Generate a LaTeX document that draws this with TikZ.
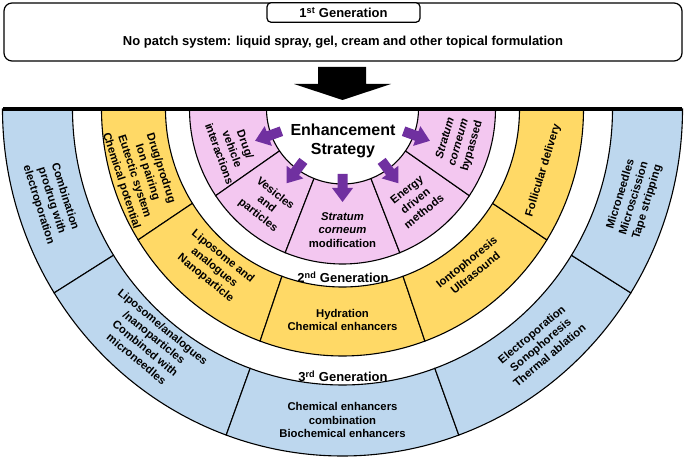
\documentclass[tikz,border=0pt]{standalone}
\usepackage{fontspec}
\setmainfont{Liberation Sans}
\usetikzlibrary{calc}
\definecolor{ringblue}{RGB}{189,215,238}
\definecolor{ringyellow}{RGB}{255,217,102}
\definecolor{ringpink}{RGB}{243,199,240}
\definecolor{arrowpurple}{RGB}{112,48,160}
\begin{document}
\begin{tikzpicture}[x=1pt,y=1pt,
  sector/.style={draw=black,line width=1.1pt},
  ringlabel/.style={font=\bfseries\fontsize{11.3}{13.8}\selectfont,align=center,inner sep=0pt},
  genlabel/.style={font=\bfseries\fontsize{13}{15}\selectfont,inner sep=0pt}]
\useasboundingbox (0,0) rectangle (685,460);
\coordinate (c) at (342.5,351);

% 1st generation box
\node[draw,line width=1.2pt,rounded corners=8pt,minimum width=678pt,minimum height=58pt] (gen1box) at (343,428) {};
\node[draw,line width=1.2pt,rounded corners=4pt,fill=white,minimum width=153pt,minimum height=19.5pt] (gen1tab) at (343.5,447.5) {};
\node[genlabel] (gen1) at (gen1tab) {1\textsuperscript{st} Generation};
\node[genlabel] (nopatch) at (343,418) {No patch system: liquid spray, gel, cream and other topical formulation};
\fill (318,393) -- (366,393) -- (366,376) -- (391,376) -- (342.5,360) -- (294,376) -- (318,376) -- cycle;

% rings
\foreach \a/\b in {180/212,212/250,250/290,290/328,328/360}
  \draw[sector,fill=ringblue,shift={(c)}] (\a:340 and 347) arc[start angle=\a,end angle=\b,x radius=340,y radius=347]
    -- (\b:270 and 276) arc[start angle=\b,end angle=\a,x radius=270,y radius=276] -- cycle;
\foreach \a/\b in {180/212,212/250,250/290,290/328,328/360}
  \draw[sector,fill=ringyellow,shift={(c)}] (\a:241 and 247) arc[start angle=\a,end angle=\b,x radius=241,y radius=247]
    -- (\b:177 and 178) arc[start angle=\b,end angle=\a,x radius=177,y radius=178] -- cycle;
\foreach \a/\b in {180/214,214/248,248/292,292/326,326/360}
  \draw[sector,fill=ringpink,shift={(c)}] (\a:153 and 155) arc[start angle=\a,end angle=\b,x radius=153,y radius=155]
    -- (\b:76 and 75) arc[start angle=\b,end angle=\a,x radius=76,y radius=75] -- cycle;
\draw[line width=4pt] (3,351) -- (682,351);

% arrows out of the centre
\foreach \t in {200,233,270,307,340}
  \fill[arrowpurple,shift={(c)},rotate=\t] (65,-5) -- (79,-5) -- (79,-10.5) -- (93,0) -- (79,10.5) -- (79,5) -- (65,5) -- cycle;

\node[font=\bfseries\fontsize{16}{19.3}\selectfont,align=center] (strategy) at (343,319) {Enhancement\\Strategy};

% pink sectors
\node[ringlabel,rotate=-70] (drugveh) at ($(c)+(200:117)$) {Drug/\\vehicle\\interactions};
\node[ringlabel,rotate=-38.5] (vesicles) at ($(c)+(231.5:122)$) {Vesicles\\and\\particles};
\node[ringlabel] (scmod) at ($(c)+(270:121)$) {\textit{Stratum}\\\textit{corneum}\\modification};
\node[ringlabel,rotate=38.5] (energy) at ($(c)+(308.5:117)$) {Energy\\driven\\methods};
\node[ringlabel,rotate=74] (scbypass) at ($(c)+(344:121)$) {\textit{Stratum}\\\textit{corneum}\\bypassed};

% 2nd generation
\node[genlabel] (gen2) at (343,183) {2\textsuperscript{nd} Generation};
\node[ringlabel,rotate=-72] (prodrug) at ($(c)+(198:212)$) {Drug/prodrug\\Ion pairing\\Eutectic system\\Chemical potential};
\node[ringlabel,rotate=-39] (liposome) at ($(c)+(231:204)$) {Liposome and\\analogues\\Nanoparticle};
\node[ringlabel] (hydration) at ($(c)+(270:211)$) {Hydration\\Chemical enhancers};
\node[ringlabel,rotate=39] (ionto) at ($(c)+(309:204)$) {Iontophoresis\\Ultrasound};
\node[ringlabel,rotate=73] (follicular) at ($(c)+(343:210)$) {Follicular delivery};

% 3rd generation
\node[genlabel] (gen3) at (343,84) {3\textsuperscript{rd} Generation};
\node[ringlabel,rotate=-72.5] (combprodrug) at ($(c)+(197.5:305)$) {Combination\\prodrug with\\electroporation};
\node[ringlabel,rotate=-39.5] (combliposome) at ($(c)+(230.5:303)$) {Liposome/analogues\\/nanoparticles\\Combined with\\microneedles};
\node[ringlabel] (combchem) at ($(c)+(270:311)$) {Chemical enhancers\\combination\\Biochemical enhancers};
\node[ringlabel,rotate=40] (electro) at ($(c)+(310:308)$) {Electroporation\\Sonophoresis\\Thermal ablation};
\node[ringlabel,rotate=73] (microneedles) at ($(c)+(343:305)$) {Microneedles\\Microscission\\Tape stripping};
\end{tikzpicture}
\end{document}
